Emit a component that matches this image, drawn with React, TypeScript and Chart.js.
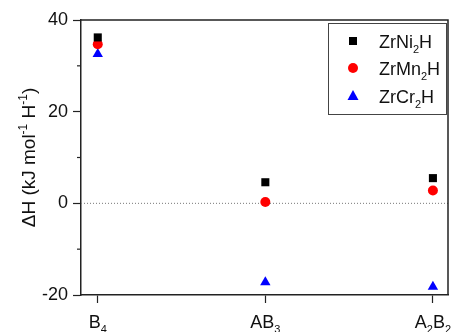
import React, { useEffect, useRef } from "react";
import { Chart, registerables } from "chart.js";

Chart.register(...registerables);

// labels with sub/superscripts as segments: [text, mode] where mode 0=normal,1=sub,2=sup
type Seg = [string, number];
const categories: Seg[][] = [
  [["B", 0], ["4", 1]],
  [["AB", 0], ["3", 1]],
  [["A", 0], ["2", 1], ["B", 0], ["2", 1]],
];
const seriesNames: Seg[][] = [
  [["ZrNi", 0], ["2", 1], ["H", 0]],
  [["ZrMn", 0], ["2", 1], ["H", 0]],
  [["ZrCr", 0], ["2", 1], ["H", 0]],
];
const yTitle: Seg[] = [["\u0394H (kJ mol", 0], ["-1", 2], [" H", 0], ["-1", 2], [")", 0]];
const niValues = [36.2, 4.6, 5.5];
const mnValues = [34.7, 0.3, 2.8];
const crValues = [32.6, -17.2, -18.2];
const yMajorTicks = [-20, 0, 20, 40];
const yMinorTicks = [-10, 10, 30];

const FONT = "'Liberation Sans', Arial, sans-serif";
const AXIS = "#222";
const TXT = "#111";

function segFont(mode: number, size: number) {
  return `${mode === 0 ? size : Math.round(size * 0.62)}px ${FONT}`;
}
function measureRich(ctx: CanvasRenderingContext2D, segs: Seg[], size: number) {
  let w = 0;
  segs.forEach(([t, m]) => {
    ctx.font = segFont(m, size);
    w += ctx.measureText(t).width;
  });
  return w;
}
// draws with left/baseline at (x, y) in current transform
function drawRich(ctx: CanvasRenderingContext2D, segs: Seg[], x: number, y: number, size: number) {
  ctx.textBaseline = "alphabetic";
  ctx.textAlign = "left";
  let cx = x;
  segs.forEach(([t, m]) => {
    ctx.font = segFont(m, size);
    const dy = m === 1 ? size * 0.28 : m === 2 ? -size * 0.42 : 0;
    ctx.fillText(t, cx, y + dy);
    cx += ctx.measureText(t).width;
  });
}

const framePlugin = {
  id: "frame",
  beforeDatasetsDraw(chart: any) {
    const { ctx, chartArea } = chart;
    const y = chart.scales.y;
    const yz = y.getPixelForValue(0);
    ctx.save();
    ctx.strokeStyle = "#777";
    ctx.lineWidth = 1;
    ctx.setLineDash([1, 2]);
    ctx.beginPath();
    ctx.moveTo(chartArea.left, yz);
    ctx.lineTo(chartArea.right, yz);
    ctx.stroke();
    ctx.restore();
  },
  afterDraw(chart: any) {
    const { ctx, chartArea } = chart;
    const y = chart.scales.y;
    const x = chart.scales.x;
    ctx.save();
    ctx.strokeStyle = AXIS;
    ctx.lineWidth = 1.5;
    ctx.beginPath();
    ctx.moveTo(chartArea.left, chartArea.top);
    ctx.lineTo(chartArea.right, chartArea.top);
    ctx.lineTo(chartArea.right, chartArea.bottom);
    ctx.stroke();
    // minor ticks
    ctx.lineWidth = 1.2;
    yMinorTicks.forEach((v) => {
      const py = y.getPixelForValue(v);
      ctx.beginPath();
      ctx.moveTo(chartArea.left - 4, py);
      ctx.lineTo(chartArea.left, py);
      ctx.stroke();
    });
    ctx.fillStyle = TXT;
    // x category labels
    categories.forEach((segs, i) => {
      const px = x.getPixelForValue(i);
      const w = measureRich(ctx, segs, 18);
      drawRich(ctx, segs, px - w / 2, chartArea.bottom + 33, 18);
    });
    // y title
    ctx.save();
    const ty = (chartArea.top + chartArea.bottom) / 2;
    ctx.translate(35, ty);
    ctx.rotate(-Math.PI / 2);
    const tw = measureRich(ctx, yTitle, 19);
    drawRich(ctx, yTitle, -tw / 2, 0, 19);
    ctx.restore();
    // legend
    const bx = 328, by = 23, bw = 118, bh = 91;
    ctx.strokeStyle = "#444";
    ctx.lineWidth = 1;
    ctx.strokeRect(bx + 0.5, by + 0.5, bw, bh);
    const rows = [41, 68, 96];
    chart.data.datasets.forEach((ds: any, i: number) => {
      const cx = 353, cy = rows[i];
      ctx.fillStyle = ds.backgroundColor;
      ctx.beginPath();
      if (ds.pointStyle === "rect") {
        ctx.fillRect(cx - 4, cy - 4, 8, 8);
      } else if (ds.pointStyle === "circle") {
        ctx.arc(cx, cy, 5, 0, Math.PI * 2);
        ctx.fill();
      } else {
        ctx.moveTo(cx, cy - 6);
        ctx.lineTo(cx + 5.5, cy + 4);
        ctx.lineTo(cx - 5.5, cy + 4);
        ctx.closePath();
        ctx.fill();
      }
      ctx.fillStyle = TXT;
      drawRich(ctx, seriesNames[i], 379, cy + 6.5, 18);
    });
    ctx.restore();
  },
};

function toPoints(vals: number[]) {
  return vals.map((v, i) => ({ x: i, y: v }));
}

export default function App() {
  const ref = useRef<HTMLCanvasElement | null>(null);
  useEffect(() => {
    document.body.style.margin = "0";
    const chart = new Chart(ref.current as HTMLCanvasElement, {
      type: "scatter",
      data: {
        datasets: [
          { label: "ZrNi2H", data: toPoints(niValues), pointStyle: "rect", pointRadius: 5.7, backgroundColor: "#000", borderColor: "#000", borderWidth: 0 },
          { label: "ZrMn2H", data: toPoints(mnValues), pointStyle: "circle", pointRadius: 5, backgroundColor: "#ff0000", borderColor: "#ff0000", borderWidth: 0 },
          { label: "ZrCr2H", data: toPoints(crValues), pointStyle: "triangle", pointRadius: 6, backgroundColor: "#0000ff", borderColor: "#0000ff", borderWidth: 0 },
        ],
      },
      options: {
        animation: false,
        responsive: false,
        maintainAspectRatio: false,
        layout: { padding: { top: 20, right: 5, left: 0, bottom: 0 } },
        plugins: { legend: { display: false }, tooltip: { enabled: false } },
        scales: {
          x: {
            type: "linear",
            min: -0.1,
            max: 2.09,
            afterBuildTicks: (s: any) => { s.ticks = [0, 1, 2].map((v) => ({ value: v })); },
            afterFit: (s: any) => { s.height = 37; },
            grid: { drawOnChartArea: false, tickLength: 8, tickColor: AXIS, tickWidth: 1.2 },
            border: { color: AXIS, width: 1.5 },
            ticks: { callback: () => "", maxRotation: 0 },
          },
          y: {
            min: -20,
            max: 40,
            afterBuildTicks: (s: any) => { s.ticks = yMajorTicks.map((v) => ({ value: v })); },
            afterFit: (s: any) => { s.width = 81; },
            grid: { drawOnChartArea: false, tickLength: 8, tickColor: AXIS, tickWidth: 1.2 },
            border: { color: AXIS, width: 1.5 },
            ticks: { color: TXT, font: { family: FONT, size: 18 }, padding: 5 },
          },
        },
      },
      plugins: [framePlugin],
    } as any);
    return () => chart.destroy();
  }, []);
  return (
    <div style={{ position: "fixed", left: 0, top: 0, width: 454, height: 332 }}>
      <canvas ref={ref} width={454} height={332} style={{ width: 454, height: 332 }} />
    </div>
  );
}
